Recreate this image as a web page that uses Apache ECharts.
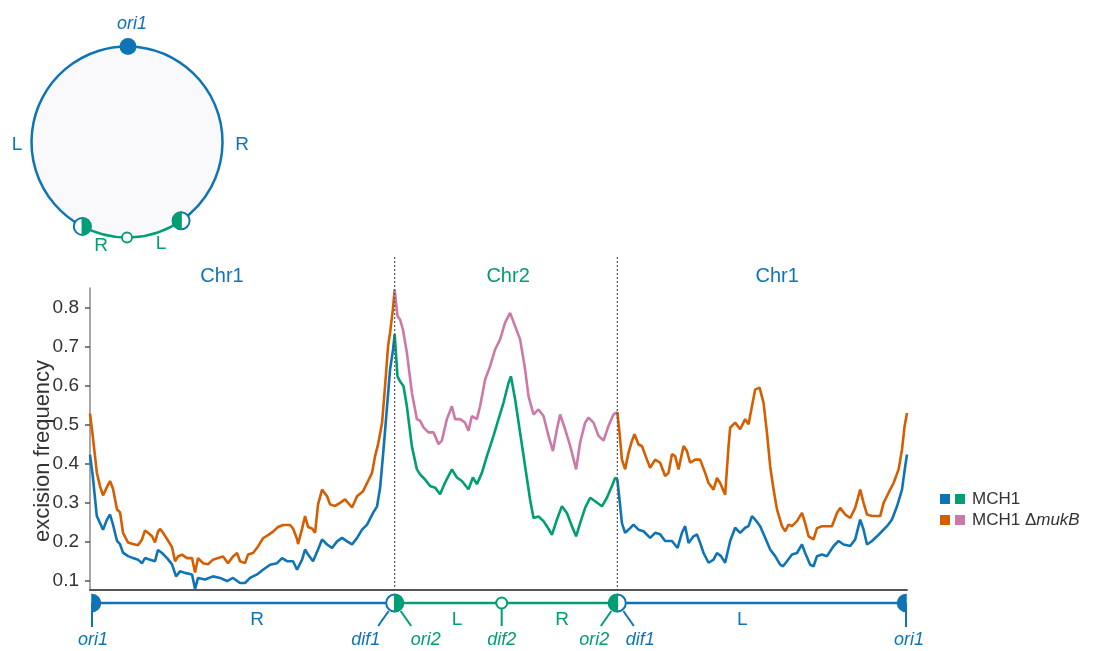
<!DOCTYPE html>
<html><head><meta charset="utf-8">
<script src="https://cdn.jsdelivr.net/npm/echarts@6/dist/echarts.min.js"></script>
<style>html,body{margin:0;padding:0;background:#fff}#c{width:1103px;height:651px}</style>
</head><body><div id="c"></div>
<script>
// ---------- data (positions in kb along the MCH1 genome) ----------
const BOUNDARY1 = 1523;   // dif1 | ori2 junction
const BOUNDARY2 = 2636;   // ori2 | dif1 junction
const GENOME_END = 4084;  // back at ori1
const DIF2_POS = 2058;
const yTicks = [0.1, 0.2, 0.3, 0.4, 0.5, 0.6, 0.7, 0.8];

const regionLabels = ['Chr1', 'Chr2', 'Chr1'];
const regionLabelPos = [660, 2090, 3435];
const armLabels = ['R', 'L', 'R', 'L'];
const armLabelPos = [835, 1835, 2360, 3260];

// Chr1 right arm (ori1 -> dif1)
const chr1R_pos_mch1 = [0,14,34,50,65,85,100,115,135,150,165,190,215,240,260,275,300,325,340,360,385,410,430,450,475,510,525,540,575,615,650,685,715,750,775,800,835,865,900,935,960,985,1015,1035,1060,1075,1090,1115,1140,1160,1185,1210,1235,1260,1285,1310,1335,1360,1385,1415,1435,1450,1465,1485,1500,1515,1523];
const chr1R_mch1 = [0.423,0.367,0.265,0.247,0.230,0.256,0.269,0.243,0.201,0.193,0.171,0.162,0.157,0.153,0.144,0.157,0.153,0.149,0.178,0.170,0.157,0.141,0.110,0.123,0.119,0.115,0.078,0.106,0.102,0.110,0.106,0.098,0.106,0.093,0.093,0.106,0.115,0.127,0.140,0.144,0.157,0.149,0.149,0.127,0.153,0.179,0.166,0.149,0.179,0.205,0.192,0.183,0.200,0.209,0.200,0.192,0.209,0.230,0.243,0.273,0.290,0.337,0.423,0.547,0.642,0.693,0.732];

const chr1R_pos_muk = [0,14,34,50,65,85,100,115,135,150,165,190,215,240,260,275,290,310,325,340,350,365,385,410,425,440,460,485,510,525,540,565,590,615,640,665,690,715,735,750,775,790,815,840,865,890,915,940,965,1000,1015,1035,1040,1060,1075,1090,1110,1125,1140,1160,1185,1200,1225,1250,1275,1310,1335,1365,1390,1410,1425,1440,1460,1475,1490,1500,1514,1523];
const chr1R_muk = [0.528,0.470,0.377,0.342,0.318,0.340,0.355,0.335,0.282,0.275,0.222,0.197,0.193,0.190,0.205,0.228,0.222,0.213,0.197,0.225,0.232,0.222,0.206,0.185,0.149,0.161,0.166,0.157,0.157,0.120,0.157,0.144,0.141,0.153,0.157,0.161,0.144,0.161,0.170,0.149,0.144,0.166,0.170,0.187,0.208,0.216,0.225,0.237,0.242,0.242,0.233,0.206,0.193,0.232,0.265,0.237,0.233,0.222,0.295,0.333,0.316,0.295,0.291,0.299,0.308,0.287,0.316,0.329,0.355,0.376,0.419,0.449,0.505,0.599,0.702,0.736,0.796,0.847];

// Chr2 (ori2 -> dif2 -> ori2)
const chr2_pos_mch1 = [1523,1537,1550,1567,1584,1609,1634,1650,1675,1700,1725,1750,1775,1809,1834,1859,1892,1914,1934,1959,1984,2017,2042,2067,2092,2104,2125,2150,2175,2200,2217,2242,2267,2284,2309,2334,2359,2384,2409,2430,2450,2475,2500,2525,2559,2584,2609,2625,2636];
const chr2_mch1 = [0.732,0.624,0.611,0.599,0.547,0.444,0.385,0.372,0.359,0.342,0.338,0.321,0.351,0.385,0.364,0.355,0.334,0.364,0.347,0.376,0.419,0.471,0.514,0.556,0.607,0.624,0.565,0.479,0.393,0.307,0.260,0.264,0.252,0.239,0.217,0.256,0.290,0.273,0.239,0.213,0.247,0.286,0.312,0.303,0.290,0.312,0.342,0.363,0.360];

const chr2_pos_muk = [1523,1537,1550,1564,1584,1609,1634,1650,1667,1692,1717,1742,1759,1784,1809,1825,1850,1875,1892,1909,1934,1950,1975,2000,2025,2050,2075,2100,2125,2150,2175,2192,2217,2242,2267,2292,2314,2334,2350,2375,2400,2430,2450,2475,2492,2517,2542,2567,2592,2617,2636];
const chr2_muk = [0.847,0.779,0.770,0.745,0.685,0.582,0.514,0.510,0.493,0.480,0.480,0.450,0.459,0.514,0.547,0.514,0.514,0.505,0.484,0.522,0.514,0.547,0.616,0.650,0.693,0.719,0.762,0.787,0.753,0.719,0.642,0.573,0.526,0.539,0.522,0.471,0.432,0.488,0.526,0.488,0.446,0.385,0.454,0.505,0.518,0.505,0.471,0.459,0.497,0.526,0.532];

// Chr1 left arm (dif1 -> ori1)
const chr1L_pos_mch1 = [2636,2647,2659,2675,2700,2717,2742,2767,2800,2825,2850,2875,2909,2937,2959,2975,2992,3017,3034,3050,3067,3092,3117,3134,3154,3175,3200,3225,3250,3275,3292,3309,3325,3350,3375,3400,3425,3450,3464,3484,3509,3534,3559,3575,3600,3617,3634,3659,3684,3717,3742,3767,3800,3825,3850,3867,3884,3909,3934,3959,3984,4009,4034,4059,4075,4084];
const chr1L_mch1 = [0.360,0.307,0.247,0.222,0.234,0.243,0.230,0.226,0.209,0.222,0.218,0.201,0.201,0.183,0.222,0.239,0.196,0.213,0.218,0.196,0.170,0.145,0.153,0.170,0.162,0.145,0.201,0.235,0.222,0.235,0.239,0.265,0.256,0.239,0.209,0.179,0.162,0.140,0.136,0.149,0.166,0.170,0.192,0.170,0.140,0.136,0.162,0.166,0.162,0.188,0.201,0.192,0.188,0.205,0.256,0.230,0.192,0.201,0.213,0.226,0.239,0.256,0.290,0.333,0.393,0.423];

const chr1L_pos_muk = [2636,2647,2659,2675,2692,2709,2722,2742,2759,2784,2800,2825,2850,2875,2892,2909,2925,2942,2967,2984,3000,3025,3050,3075,3092,3117,3134,3150,3175,3192,3200,3225,3250,3275,3292,3309,3325,3347,3367,3384,3400,3417,3434,3459,3475,3492,3509,3534,3559,3575,3592,3617,3634,3659,3684,3709,3734,3750,3775,3800,3825,3850,3867,3884,3909,3934,3950,3967,3992,4017,4042,4059,4072,4084];
const chr1L_muk = [0.532,0.479,0.410,0.385,0.428,0.458,0.475,0.449,0.445,0.410,0.389,0.410,0.402,0.368,0.376,0.424,0.419,0.385,0.445,0.432,0.402,0.410,0.410,0.376,0.350,0.333,0.363,0.350,0.320,0.445,0.492,0.505,0.488,0.514,0.501,0.547,0.590,0.595,0.556,0.479,0.393,0.333,0.282,0.239,0.226,0.243,0.239,0.252,0.273,0.247,0.213,0.205,0.234,0.239,0.239,0.239,0.273,0.286,0.269,0.260,0.286,0.333,0.299,0.269,0.265,0.265,0.265,0.299,0.325,0.350,0.385,0.436,0.496,0.530];

// ---------- styling ----------
const BLUE = '#0f74b5', ORANGE = '#D55E00', GREEN = '#009E73', PINK = '#CC79A7';
const FONT = '"Liberation Sans", Arial, Helvetica, sans-serif';
const zip = (p, v) => p.map((x, i) => [x, v[i]]);

function lineSeries(name, pos, vals, color, z) {
  return {
    name, type: 'line', data: zip(pos, vals), showSymbol: false, symbol: 'none',
    lineStyle: { color, width: 2.6 }, itemStyle: { color }, z, silent: true
  };
}

const option = {
  animation: false,
  backgroundColor: '#fff',
  textStyle: { fontFamily: FONT },
  grid: { left: 90, right: 196, top: 288, bottom: 61, containLabel: false },
  xAxis: {
    type: 'value', min: 0, max: GENOME_END,
    axisLine: { show: true, lineStyle: { color: '#555', width: 2 } },
    axisTick: { show: false }, axisLabel: { show: false }, splitLine: { show: false }
  },
  yAxis: {
    type: 'value', min: 0.075, max: 0.851,
    name: 'excision frequency', nameLocation: 'middle', nameGap: 36, nameMoveOverlap: false,
    nameTextStyle: { fontSize: 22, color: '#333', fontFamily: FONT, padding: [0, 24, 0, 0] },
    axisLine: { show: true, lineStyle: { color: '#8a8a8a', width: 1.5 } },
    axisTick: { show: true, length: 5, customValues: yTicks, lineStyle: { color: '#555', width: 1.5 } },
    axisLabel: { customValues: yTicks, formatter: v => v.toFixed(1), fontSize: 19, color: '#333', margin: 11, fontFamily: FONT },
    splitLine: { show: false }
  },
  legend: {
    orient: 'vertical', left: 935, top: 484, itemWidth: 10, itemHeight: 10, itemGap: 1,
    selectedMode: false,
    data: [
      { name: 'MCH1', icon: 'rect', itemStyle: { color: BLUE } },
      { name: 'MCH1 ΔmukB', icon: 'rect', itemStyle: { color: ORANGE } }
    ],
    formatter: n => n === 'MCH1' ? '{g|}{s|}MCH1' : '{p|}{s|}MCH1 Δ{i|mukB}',
    textStyle: {
      fontSize: 17, color: '#333', fontFamily: FONT, lineHeight: 20,
      rich: {
        g: { width: 10, height: 10, backgroundColor: GREEN },
        p: { width: 10, height: 10, backgroundColor: PINK },
        s: { width: 7 },
        i: { fontStyle: 'italic', fontSize: 17, color: '#333', fontFamily: FONT }
      }
    }
  },
  series: [
    lineSeries('MCH1 ΔmukB', chr1R_pos_muk, chr1R_muk, ORANGE, 2),
    lineSeries('MCH1 ΔmukB', chr2_pos_muk, chr2_muk, PINK, 2),
    lineSeries('MCH1 ΔmukB', chr1L_pos_muk, chr1L_muk, ORANGE, 2),
    lineSeries('MCH1', chr1R_pos_mch1, chr1R_mch1, BLUE, 3),
    lineSeries('MCH1', chr2_pos_mch1, chr2_mch1, GREEN, 3),
    lineSeries('MCH1', chr1L_pos_mch1, chr1L_mch1, BLUE, 3)
  ]
};

const chart = echarts.init(document.getElementById('c'));
chart.setOption(option);

// ---------- schematic graphics, positioned from the x axis ----------
const X = v => chart.convertToPixel({ xAxisIndex: 0 }, v);
const yBotPix = chart.convertToPixel({ yAxisIndex: 0 }, 0.075);
const g = [];
const txt = (x, y, text, fill, size, italic) => ({
  type: 'text', x, y, silent: true, z: 10,
  style: { text, fill, fontSize: size, fontStyle: italic ? 'italic' : 'normal', fontFamily: FONT, align: 'center', verticalAlign: 'middle' }
});
const seg = (x1, y1, x2, y2, stroke, w, dash) => ({
  type: 'line', silent: true, z: 5, shape: { x1, y1, x2, y2 },
  style: { stroke, lineWidth: w, lineDash: dash || null }
});
const half = (cx, cy, r, side, color) => ({
  type: 'sector', silent: true, z: 7,
  shape: { cx, cy, r0: 0, r, startAngle: side === 'right' ? -Math.PI / 2 : Math.PI / 2, endAngle: side === 'right' ? Math.PI / 2 : Math.PI * 1.5, clockwise: true },
  style: { fill: color, stroke: color, lineWidth: 1.5 }
});
const ring = (cx, cy, r, color, w) => ({
  type: 'circle', silent: true, z: 6, shape: { cx, cy, r }, style: { fill: '#fff', stroke: color, lineWidth: w }
});
const junction = (cx, cy, r, filledSide, openColor, fillColor) => [ring(cx, cy, r, openColor, 2), half(cx, cy, r, filledSide, fillColor)];

// boundary dotted lines
[BOUNDARY1, BOUNDARY2].forEach(b => g.push(seg(X(b), 257, X(b), yBotPix, '#555', 1.2, [2, 2])));
// region titles
regionLabels.forEach((t, i) => g.push(txt(X(regionLabelPos[i]), 276, t, t === 'Chr2' ? GREEN : BLUE, 20, false)));

// bottom linear map
const yS = 603;
const x0 = X(0), x1 = X(BOUNDARY1), x2 = X(BOUNDARY2), x3 = X(GENOME_END), xd = X(DIF2_POS);
g.push(seg(x0 + 2, yS, x1, yS, BLUE, 2.5));
g.push(seg(x1, yS, x2, yS, GREEN, 2.5));
g.push(seg(x2, yS, x3 - 2, yS, BLUE, 2.5));
g.push(half(x0 + 2, yS, 8.5, 'right', BLUE));
g.push(seg(x0 + 2, yS, x0 + 2, 627, BLUE, 2));
g.push(half(x3 - 1, yS, 8.5, 'left', BLUE));
g.push(seg(x3 - 1, yS, x3 - 1, 627, BLUE, 2));
g.push(txt(x0 + 3, 640, 'ori1', BLUE, 18, true));
g.push(txt(x3 + 2, 640, 'ori1', BLUE, 18, true));
g.push(seg(x1 - 6, 611, x1 - 16.5, 626, BLUE, 2));
g.push(seg(x1 + 6, 611, x1 + 16.5, 626, GREEN, 2));
g.push(...junction(x1, yS, 8.5, 'right', BLUE, GREEN));
g.push(txt(x1 - 29, 640, 'dif1', BLUE, 18, true));
g.push(txt(x1 + 31, 640, 'ori2', GREEN, 18, true));
g.push(seg(x2 - 6, 611, x2 - 16.5, 626, GREEN, 2));
g.push(seg(x2 + 6, 611, x2 + 16.5, 626, BLUE, 2));
g.push(...junction(x2, yS, 8.5, 'left', BLUE, GREEN));
g.push(txt(x2 - 23, 640, 'ori2', GREEN, 18, true));
g.push(txt(x2 + 23, 640, 'dif1', BLUE, 18, true));
g.push(seg(xd, yS + 5, xd, 626, GREEN, 2));
g.push(ring(xd, yS, 5.5, GREEN, 2));
g.push(txt(xd, 640, 'dif2', GREEN, 18, true));
armLabels.forEach((t, i) => {
  const p = armLabelPos[i];
  const c = (p > BOUNDARY1 && p < BOUNDARY2) ? GREEN : BLUE;
  g.push(txt(X(p), 620, t, c, 19, false));
});

// top-left circular genome map
const cx = 127, cy = 142, R = 95.5;
const aL = 117.9 * Math.PI / 180, aR = 55.5 * Math.PI / 180;
g.push({ type: 'circle', silent: true, z: 1, shape: { cx, cy, r: R }, style: { fill: '#f9f9fb', stroke: null } });
g.push({ type: 'arc', silent: true, z: 4, shape: { cx, cy, r: R, startAngle: aL, endAngle: aR + 2 * Math.PI, clockwise: true }, style: { stroke: BLUE, lineWidth: 2.5, fill: 'none' } });
g.push({ type: 'arc', silent: true, z: 4, shape: { cx, cy, r: R, startAngle: aR, endAngle: aL, clockwise: true }, style: { stroke: GREEN, lineWidth: 2.5, fill: 'none' } });
g.push({ type: 'circle', silent: true, z: 7, shape: { cx: cx + 1, cy: cy - R, r: 8.5 }, style: { fill: BLUE } });
g.push(...junction(cx + R * Math.cos(aL), cy + R * Math.sin(aL), 8.5, 'right', BLUE, GREEN));
g.push(...junction(cx + R * Math.cos(aR), cy + R * Math.sin(aR), 8.5, 'left', BLUE, GREEN));
g.push(ring(cx, cy + R, 5, GREEN, 1.8));
g.push(txt(cx + 5, 24, 'ori1', BLUE, 18, true));
g.push(txt(17, 145, 'L', BLUE, 19, false));
g.push(txt(242, 145, 'R', BLUE, 19, false));
g.push(txt(101, 246, 'R', GREEN, 19, false));
g.push(txt(161, 244, 'L', GREEN, 19, false));

chart.setOption({ graphic: g });
</script>
</body></html>
